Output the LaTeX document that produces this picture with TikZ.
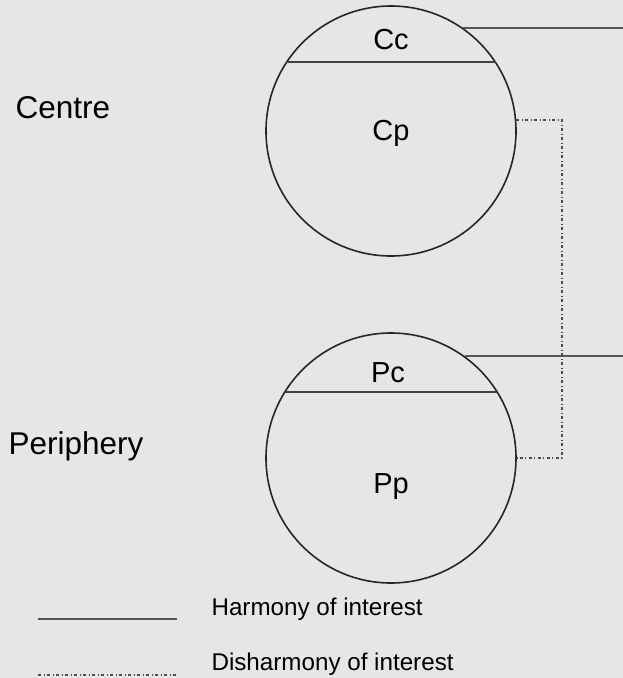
\documentclass[tikz,border=0pt]{standalone}
\usepackage{fontspec}
\setmainfont{Liberation Sans}
\usepackage{xcolor}
\usepackage{tikz}
\usetikzlibrary{positioning,calc}
\definecolor{bggray}{HTML}{E6E6E6}
\definecolor{linegray}{HTML}{555555}

\begin{document}
\begin{tikzpicture}[x=1pt, y=-1pt,
    sphere/.style={circle, draw=black!85, line width=1.6pt, minimum size=250pt, inner sep=0pt},
    harmony/.style={linegray, line width=1.8pt},
    disharmony/.style={black!70, line width=1.6pt, dash pattern=on 3pt off 2.5pt on 1pt off 2.5pt},
    label/.style={font=\fontsize{31.5}{34}\selectfont},
    part/.style={font=\fontsize{29}{32}\selectfont},
    legend/.style={font=\fontsize{24.2}{27}\selectfont, anchor=west}]
% Background and bounding box
\fill[bggray] (0,0) rectangle (623,678);
\useasboundingbox (0,0) rectangle (623,678);

% Centre and periphery circles
\node[sphere] (ctop) at (391,131) {};
\node[sphere] (cbot) at (391,458) {};

% Chords dividing each circle
\draw[harmony, black!75] ($(ctop.center)+(-105,-69)$) coordinate (ctopl) -- ($(ctop.center)+(105,-69)$) coordinate (ctopr);
\draw[harmony, black!75] ($(cbot.center)+(-106,-66)$) coordinate (cbotl) -- ($(cbot.center)+(106,-66)$) coordinate (cbotr);

% Parts of each circle
\node[part] (cc) at (391,40) {Cc};
\node[part] (cp) at (391,133) {Cp};
\node[part] (pc) at (388,373) {Pc};
\node[part] (pp) at (391,487) {Pp};

% Side labels
\node[label, anchor=west] (centre) at (12,108) {Centre};
\node[label, anchor=west] (periphery) at (5,446) {Periphery};

% Harmony connectors leaving the picture
\coordinate (rightedge) at (623,0);
\draw[harmony] (ctop.55) -- (ctop.55 -| rightedge);
\draw[harmony] (cbot.54) -- (cbot.54 -| rightedge);

% Disharmony connector between the two circles
\coordinate (bendx) at (562,0);
\draw[disharmony] (ctop.5) -- (ctop.5 -| bendx) |- (cbot.east);

% Legend
\coordinate (legA) at (38,619);
\coordinate (legB) at (177,619);
\coordinate (legC) at (38,675);
\coordinate (legD) at (177,675);
\draw[harmony] (legA) -- (legB);
\draw[disharmony] (legC) -- (legD);
\node[legend] (legharm) at (208,609) {Harmony of interest};
\node[legend] (legdis) at (208,664) {Disharmony of interest};

\end{tikzpicture}
\end{document}
